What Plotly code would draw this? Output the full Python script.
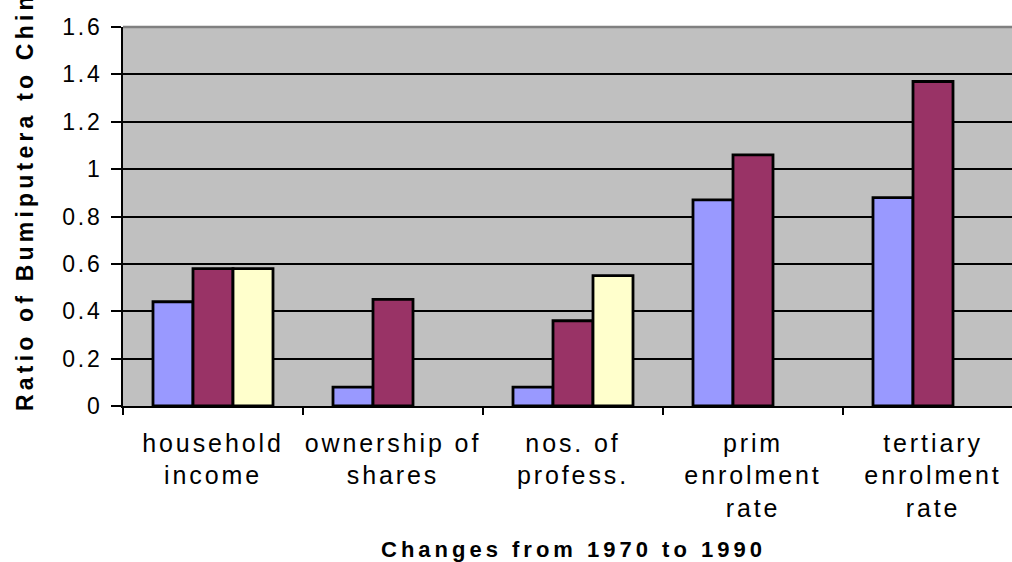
import plotly.graph_objects as go

categories = ["household<br>income", "ownership of<br>shares", "nos. of<br>profess.",
              "prim<br>enrolment<br>rate", "tertiary<br>enrolment<br>rate"]
series_names = ["1970", "1980", "1990"]
series_1 = [0.44, 0.08, 0.08, 0.87, 0.88]
series_2 = [0.58, 0.45, 0.36, 1.06, 1.37]
series_3 = [0.58, None, 0.55, None, None]
colors = ["#9999FF", "#993366", "#FFFFCC"]
y_tickvals = [0, 0.2, 0.4, 0.6, 0.8, 1.0, 1.2, 1.4, 1.6]
y_ticktext = ["0", "0.2", "0.4", "0.6", "0.8", "1", "1.2", "1.4", "1.6"]
x_title = "Changes from 1970 to 1990"
y_title = "Ratio of Bumiputera to Chinese"

FONT = "Liberation Sans, Arial, sans-serif"


def spaced(text, px):
    return "<br>".join(f'<span style="letter-spacing:{px}px">{line}</span>'
                       for line in text.split("<br>"))


W, H = 1012, 562
ML, MT = 123, 27
PLOT_BOTTOM = 406
MB = H - PLOT_BOTTOM
CAT_W = 180.0
plot_w = W - ML

fig = go.Figure()
for name, vals, col in zip(series_names, [series_1, series_2, series_3], colors):
    fig.add_trace(go.Bar(
        x=categories, y=vals, name=name,
        marker=dict(color=col, line=dict(color="black", width=2.8)),
    ))

fig.update_layout(
    width=W, height=H,
    margin=dict(l=ML, r=0, t=MT, b=MB, pad=0),
    paper_bgcolor="white",
    plot_bgcolor="#C0C0C0",
    barmode="group",
    bargap=1/3,
    bargroupgap=0,
    showlegend=False,
    font=dict(family=FONT, color="black"),
)

fig.update_xaxes(
    type="category",
    range=[-0.5, -0.5 + plot_w / CAT_W],
    tickmode="array",
    tickvals=categories,
    ticktext=[spaced(c, 2.9) for c in categories],
    tickson="boundaries",
    tickangle=0,
    automargin=False,
    ticks="outside", ticklen=7, tickwidth=1.5, tickcolor="black",
    showline=True, linecolor="black", linewidth=1.5,
    showgrid=False,
    tickfont=dict(size=25, family=FONT, color="black"),
    ticklabelstandoff=14,
)

fig.update_yaxes(
    range=[0, 1.6],
    tickmode="array",
    tickvals=y_tickvals,
    ticktext=[spaced(t, 2.8) for t in y_ticktext],
    automargin=False,
    ticks="outside", ticklen=10, tickwidth=1.5, tickcolor="black",
    showline=True, linecolor="black", linewidth=1.5,
    showgrid=True, gridcolor="black", gridwidth=1.6,
    zeroline=False,
    tickfont=dict(size=23, family=FONT, color="black"),
    ticklabelstandoff=4,
)

# top border of plot area (gray)
fig.add_shape(type="line", xref="paper", yref="paper", x0=0, x1=1, y0=1, y1=1,
              line=dict(color="#808080", width=2.5))

plot_h = PLOT_BOTTOM - MT
fig.add_annotation(
    text=spaced(x_title, 4.0), showarrow=False,
    xref="paper", yref="paper",
    x=(573 - ML) / plot_w, y=-(549 - PLOT_BOTTOM) / plot_h,
    xanchor="center", yanchor="middle",
    font=dict(size=22, family=FONT, color="black", weight="bold"),
)
fig.add_annotation(
    text=spaced(y_title, 4.2), showarrow=False, textangle=-90,
    xref="paper", yref="paper",
    x=(25 - ML) / plot_w, y=(PLOT_BOTTOM - 176) / plot_h,
    xanchor="center", yanchor="middle",
    font=dict(size=23, family=FONT, color="black", weight="bold"),
)

fig.write_html("out.html")
